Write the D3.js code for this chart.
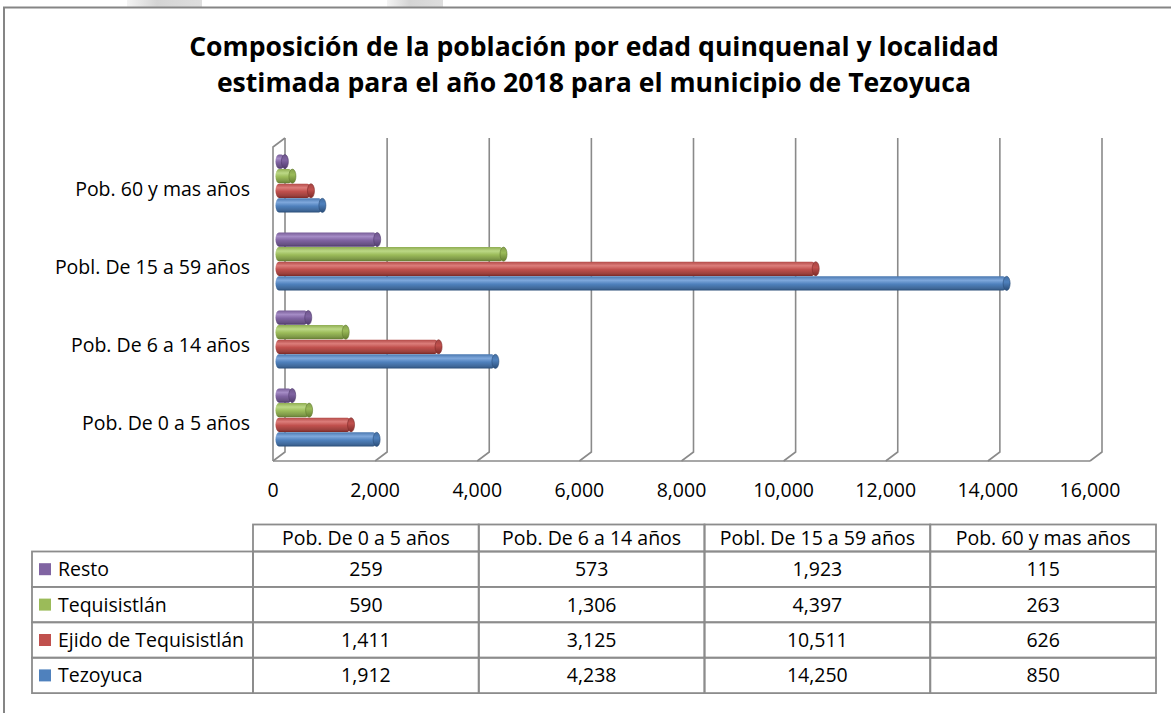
<!DOCTYPE html>
<html>
<head>
<meta charset="utf-8">
<script src="https://cdn.jsdelivr.net/npm/d3@7"></script>
<style>
  html, body { margin: 0; padding: 0; background: #fff; }
  svg { display: block; font-family: "Open Sans", Lato, sans-serif; }
</style>
</head>
<body>
<div id="chart"></div>
<script>
// categories, bottom to top in the plot / left to right in the table
const categories = ['Pob. De 0 a 5 años', 'Pob. De 6 a 14 años', 'Pobl. De 15 a 59 años', 'Pob. 60 y mas años'];
const seriesNames = ['Resto', 'Tequisistlán', 'Ejido de Tequisistlán', 'Tezoyuca'];
const resto        = [259, 573, 1923, 115];
const tequisistlan = [590, 1306, 4397, 263];
const ejido        = [1411, 3125, 10511, 626];
const tezoyuca     = [1912, 4238, 14250, 850];
const xTicks = [0, 2000, 4000, 6000, 8000, 10000, 12000, 14000, 16000];
const titleLines = [
  'Composición de la población por edad quinquenal y localidad',
  'estimada para el año 2018 para el municipio de Tezoyuca'
];

const seriesValues = [resto, tequisistlan, ejido, tezoyuca];
const COLORS = {
  'Resto':                 { base: '#8064A2', light: '#a58cc6', dark: '#4f3a6b' },
  'Tequisistlán':          { base: '#9BBB59', light: '#bcd886', dark: '#617a2f' },
  'Ejido de Tequisistlán': { base: '#C0504D', light: '#dc7d7a', dark: '#7d2a28' },
  'Tezoyuca':              { base: '#4F81BD', light: '#7fa8dc', dark: '#2a4d78' }
};
const GRID = '#8a8a8a';
const W = 1171, H = 713;
const DX = 12, DY = 9;          // 3D depth offset
const TOP = 138, FLOOR = 452;   // back wall top / bottom
const FS = 19.5;                // body text size

const svg = d3.select('#chart').append('svg')
  .attr('width', W).attr('height', H);

const defs = svg.append('defs');

// screenshot artefacts at the very top
const art = defs.append('linearGradient').attr('id', 'art').attr('x1', 0).attr('x2', 1);
art.append('stop').attr('offset', 0).attr('stop-color', '#f4f4f4');
art.append('stop').attr('offset', 0.4).attr('stop-color', '#d4d4d4');
art.append('stop').attr('offset', 1).attr('stop-color', '#dedede');
svg.append('rect').attr('x', 127).attr('y', 0).attr('width', 75).attr('height', 7).attr('fill', 'url(#art)');
svg.append('rect').attr('x', 387).attr('y', 0).attr('width', 56).attr('height', 7).attr('fill', 'url(#art)');

// chart border (runs off right and bottom)
svg.append('rect')
  .attr('x', 4).attr('y', 7.5).attr('width', W + 10).attr('height', H + 10)
  .attr('fill', 'none').attr('stroke', '#858585').attr('stroke-width', 2);

// title
svg.append('g').selectAll('text')
  .data(titleLines)
  .join('text')
    .attr('x', 594)
    .attr('y', (d, i) => 56 + i * 36)
    .attr('text-anchor', 'middle')
    .style('font-size', '26.6px')
    .style('font-weight', 700)
    .attr('fill', '#000')
    .text(d => d);

// scales
const xBack  = d3.scaleLinear().domain([0, 16000]).range([285, 1102]);
const xFront = d3.scaleLinear().domain([0, 16000]).range([285 - DX, 1102 - DX]);
const xBar   = d3.scaleLinear().domain([0, 16000]).range([285 - DX / 2, 1102 - DX / 2]);

const y = d3.scaleBand()
  .domain(categories.slice().reverse())
  .range([144.5, 456.5]);
const ySeries = d3.scaleBand()
  .domain(seriesNames)
  .range([10, 68])
  .paddingInner(0.03);

// walls / gridlines
const grid = svg.append('g').attr('fill', 'none').attr('stroke', GRID).attr('stroke-width', 1.6);
// left wall
grid.append('path')
  .attr('d', `M${xFront(0)},${FLOOR + DY} V${TOP + DY} L${xBack(0)},${TOP}`);
// back verticals dropping onto the floor
grid.selectAll('.gl')
  .data(xTicks)
  .join('path')
    .attr('class', 'gl')
    .attr('d', d => `M${xBack(d)},${TOP} V${FLOOR} L${xFront(d)},${FLOOR + DY}`);
// floor front edge
grid.append('path')
  .attr('d', `M${xFront(0)},${FLOOR + DY} H${xFront(16000)}`);

// x axis labels
svg.append('g').selectAll('text')
  .data(xTicks)
  .join('text')
    .attr('x', d => xFront(d))
    .attr('y', 497)
    .attr('text-anchor', 'middle')
    .style('font-size', FS + 'px')
    .attr('fill', '#000')
    .text(d3.format(','));

// category labels
svg.append('g').selectAll('text')
  .data(categories)
  .join('text')
    .attr('x', 250)
    .attr('y', d => y(d) + y.bandwidth() / 2 + 12)
    .attr('text-anchor', 'end')
    .style('font-size', FS + 'px')
    .attr('fill', '#000')
    .text(d => d);

// cylinder gradients
seriesNames.forEach((s, i) => {
  const c = COLORS[s];
  const g = defs.append('linearGradient').attr('id', 'cyl' + i).attr('x1', 0).attr('x2', 0).attr('y1', 0).attr('y2', 1);
  [[0, d3.color(c.base).darker(0.2)], [0.28, c.light], [0.55, c.base], [0.85, d3.color(c.base).darker(0.6)], [1, c.dark]]
    .forEach(([o, col]) => g.append('stop').attr('offset', o).attr('stop-color', col));
  const e = defs.append('linearGradient').attr('id', 'cap' + i).attr('x1', 0).attr('x2', 0).attr('y1', 0).attr('y2', 1);
  [[0, d3.color(c.base).darker(0.4)], [0.4, c.base], [1, c.dark]]
    .forEach(([o, col]) => e.append('stop').attr('offset', o).attr('stop-color', col));
});

// bars
const rows = [];
seriesNames.forEach((s, si) => {
  categories.forEach((cat, ci) => rows.push({ s, si, cat, v: seriesValues[si][ci] }));
});

const bar = svg.append('g').selectAll('g')
  .data(rows)
  .join('g')
    .attr('transform', d => `translate(0,${y(d.cat) + ySeries(d.s)})`);

const bh = ySeries.bandwidth();
const capR = 3.5;
bar.append('rect')
  .attr('x', d => xBar(0) - capR)
  .attr('y', 0)
  .attr('width', d => Math.max(2, xBar(d.v) - xBar(0) + capR))
  .attr('height', bh)
  .attr('rx', capR).attr('ry', bh / 2)
  .attr('fill', d => `url(#cyl${d.si})`);
bar.append('ellipse')
  .attr('cx', d => xBar(d.v))
  .attr('cy', bh / 2)
  .attr('rx', capR)
  .attr('ry', bh / 2)
  .attr('fill', d => `url(#cap${d.si})`)
  .attr('stroke', d => COLORS[d.s].dark)
  .attr('stroke-width', 0.6);

// data table
const tCols = d3.scaleBand().domain(categories).range([253, 1156]);
const rowTop = 551.5, rowH = 35.4, headTop = 524.5;
const tY = d3.scaleBand().domain(seriesNames).range([rowTop, rowTop + rowH * 4]);
const table = svg.append('g');
const tl = table.append('g').attr('fill', 'none').attr('stroke', '#8c8c8c').attr('stroke-width', 1.8);

// header cells
tl.selectAll('.hc')
  .data(categories)
  .join('rect')
    .attr('class', 'hc')
    .attr('x', d => tCols(d)).attr('y', headTop)
    .attr('width', tCols.bandwidth()).attr('height', rowTop - headTop);
// body cells
tl.selectAll('.rl')
  .data(seriesNames)
  .join('rect')
    .attr('class', 'rl')
    .attr('x', 32).attr('y', d => tY(d))
    .attr('width', 253 - 32).attr('height', tY.bandwidth());
rows.forEach(d => {
  tl.append('rect')
    .attr('x', tCols(d.cat)).attr('y', tY(d.s))
    .attr('width', tCols.bandwidth()).attr('height', tY.bandwidth());
});

table.selectAll('.ht')
  .data(categories)
  .join('text')
    .attr('class', 'ht')
    .attr('x', d => tCols(d) + tCols.bandwidth() / 2)
    .attr('y', headTop + 20)
    .attr('text-anchor', 'middle')
    .style('font-size', FS + 'px')
    .text(d => d);

table.selectAll('.key')
  .data(seriesNames)
  .join('rect')
    .attr('class', 'key')
    .attr('x', 39).attr('y', d => tY(d) + tY.bandwidth() / 2 - 6)
    .attr('width', 12).attr('height', 12)
    .attr('fill', d => COLORS[d].base);

table.selectAll('.rt')
  .data(seriesNames)
  .join('text')
    .attr('class', 'rt')
    .attr('x', 58)
    .attr('y', d => tY(d) + tY.bandwidth() / 2 + 7)
    .style('font-size', FS + 'px')
    .text(d => d);

table.selectAll('.vt')
  .data(rows)
  .join('text')
    .attr('class', 'vt')
    .attr('x', d => tCols(d.cat) + tCols.bandwidth() / 2)
    .attr('y', d => tY(d.s) + tY.bandwidth() / 2 + 7)
    .attr('text-anchor', 'middle')
    .style('font-size', FS + 'px')
    .text(d => d3.format(',')(d.v));
</script>
</body>
</html>
